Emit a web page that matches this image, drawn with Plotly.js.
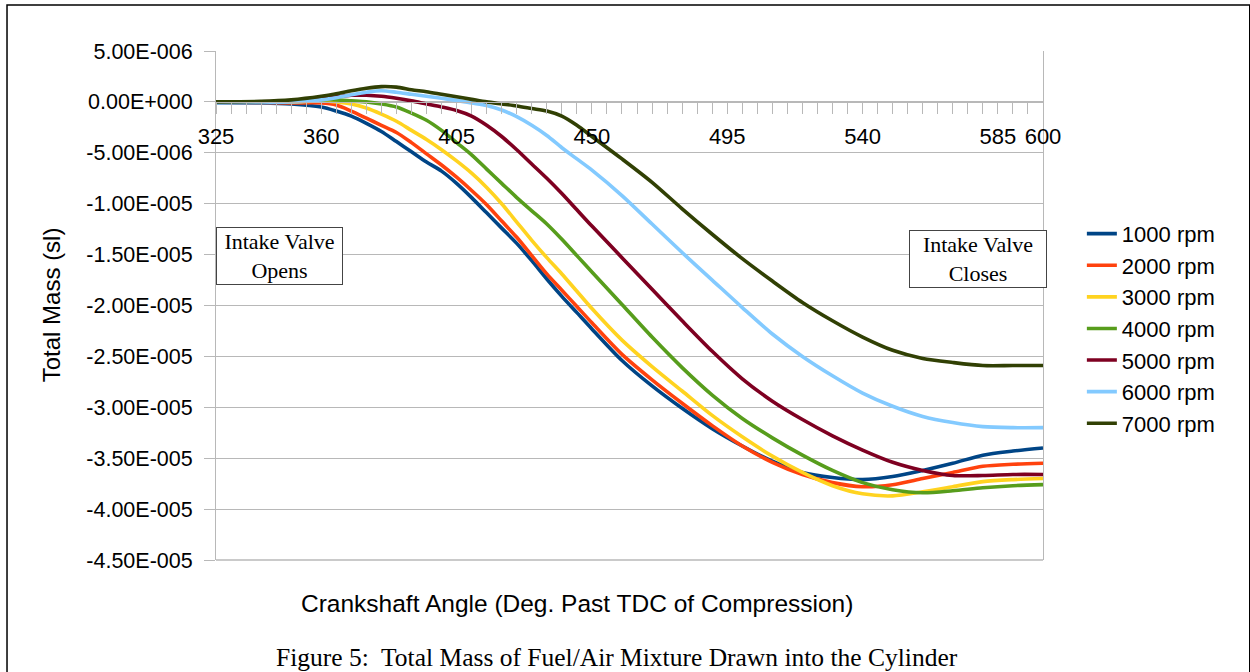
<!DOCTYPE html>
<html>
<head>
<meta charset="utf-8">
<script src="https://cdn.plot.ly/plotly-3.0.1.min.js"></script>
<style>
html,body{margin:0;padding:0;background:#fff;}
#chart{width:1250px;height:672px;}
</style>
</head>
<body>
<div id="chart"></div>
<script>
// Crankshaft angle (deg past TDC of compression)
const angles = [325, 340, 350, 360, 365, 370, 375, 380, 385, 390, 395, 400, 405, 410, 415, 420, 425, 430, 435, 440, 445, 450, 460, 470, 480, 490, 500, 510, 520, 530, 540, 550, 560, 570, 580, 590, 600];

// Total mass values in units of 1e-6 sl
const rpm1000 = [-0.1, -0.1, -0.2, -0.5, -0.9, -1.4, -2.1, -2.9, -3.9, -4.9, -5.9, -6.8, -8.0, -9.4, -10.9, -12.4, -13.9, -15.6, -17.4, -19.1, -20.7, -22.3, -25.4, -27.9, -30.1, -32.1, -33.8, -35.3, -36.4, -36.9, -37.1, -36.8, -36.2, -35.5, -34.7, -34.3, -34.0];
const rpm2000 = [-0.05, -0.05, -0.1, -0.1, -0.3, -0.9, -1.6, -2.3, -3.0, -4.0, -5.1, -6.2, -7.4, -8.7, -10.1, -11.7, -13.3, -15.1, -16.9, -18.5, -20.1, -21.7, -24.8, -27.3, -29.6, -31.8, -33.8, -35.4, -36.6, -37.4, -37.8, -37.6, -37.0, -36.4, -35.8, -35.6, -35.5];
const rpm3000 = [0, 0, 0, 0.1, 0.0, -0.2, -0.6, -1.2, -1.9, -2.8, -3.7, -4.7, -5.8, -7.0, -8.4, -10.0, -11.8, -13.6, -15.3, -16.9, -18.6, -20.3, -23.4, -26.0, -28.4, -30.8, -32.9, -34.8, -36.4, -37.7, -38.5, -38.7, -38.3, -37.8, -37.3, -37.1, -37.0];
const rpm4000 = [0, 0, 0.1, 0.2, 0.2, 0.1, 0.0, -0.2, -0.5, -1.1, -1.8, -2.8, -4.0, -5.2, -6.6, -8.0, -9.4, -10.7, -12.0, -13.5, -15.1, -16.7, -19.9, -23.1, -26.1, -28.8, -31.1, -33.0, -34.7, -36.2, -37.4, -38.1, -38.4, -38.2, -37.9, -37.7, -37.6];
const rpm5000 = [0, 0, 0.1, 0.3, 0.5, 0.65, 0.65, 0.55, 0.35, 0.1, -0.2, -0.5, -0.85, -1.4, -2.3, -3.4, -4.7, -6.1, -7.5, -9.0, -10.6, -12.2, -15.3, -18.4, -21.5, -24.5, -27.2, -29.4, -31.2, -32.8, -34.2, -35.4, -36.2, -36.7, -36.7, -36.6, -36.6];
const rpm6000 = [-0.1, -0.05, 0.0, 0.2, 0.4, 0.7, 0.95, 1.1, 0.95, 0.75, 0.55, 0.35, 0.15, -0.1, -0.35, -0.8, -1.45, -2.3, -3.3, -4.5, -5.6, -6.7, -9.2, -12.0, -14.8, -17.5, -20.2, -22.8, -25.0, -26.9, -28.6, -29.9, -30.9, -31.5, -31.9, -32.0, -32.0];
const rpm7000 = [0, 0.05, 0.2, 0.55, 0.8, 1.1, 1.35, 1.5, 1.45, 1.2, 1.0, 0.75, 0.5, 0.25, 0.0, -0.2, -0.4, -0.65, -0.9, -1.4, -2.3, -3.4, -5.6, -7.9, -10.5, -13.0, -15.4, -17.6, -19.7, -21.5, -23.1, -24.4, -25.2, -25.6, -25.9, -25.9, -25.9];

const seriesNames = ["1000 rpm", "2000 rpm", "3000 rpm", "4000 rpm", "5000 rpm", "6000 rpm", "7000 rpm"];
const seriesValues = [rpm1000, rpm2000, rpm3000, rpm4000, rpm5000, rpm6000, rpm7000];
const seriesColors = ["#004586", "#ff420e", "#ffd320", "#579d1c", "#7e0021", "#83caff", "#314004"];
const unitScale = 1e-6;

const xTickVals = [325, 360, 405, 450, 495, 540, 585, 600];
const xTickText = ["325", "360", "405", "450", "495", "540", "585", "600"];
const yTickVals = [5e-6, 0, -5e-6, -1e-5, -1.5e-5, -2e-5, -2.5e-5, -3e-5, -3.5e-5, -4e-5, -4.5e-5];
const yTickText = ["5.00E-006", "0.00E+000", "-5.00E-006", "-1.00E-005", "-1.50E-005", "-2.00E-005", "-2.50E-005", "-3.00E-005", "-3.50E-005", "-4.00E-005", "-4.50E-005"];

const sans = "Liberation Sans, Arial, sans-serif";
const serif = "Liberation Serif, Times New Roman, serif";
const gridGray = "#b8b8b8";

const traces = seriesNames.map((name, i) => ({
  type: "scatter",
  mode: "lines",
  name: name,
  x: angles,
  y: seriesValues[i].map(v => v * unitScale),
  line: {color: seriesColors[i], width: 3.6, shape: "spline", smoothing: 0.8},
  hoverinfo: "x+y+name"
}));

const layout = {
  width: 1250,
  height: 672,
  paper_bgcolor: "#ffffff",
  plot_bgcolor: "#ffffff",
  margin: {l: 216, r: 207, t: 51, b: 112, pad: 0},
  showlegend: true,
  legend: {
    x: 1.047, xanchor: "left", y: 0.682, yanchor: "top",
    font: {family: sans, size: 22, color: "#000"},
    bgcolor: "rgba(0,0,0,0)", borderwidth: 0,
    itemwidth: 30, tracegroupgap: 0
  },
  xaxis: {
    range: [325, 600],
    anchor: "free",
    position: 0.9,
    showgrid: false,
    zeroline: false,
    showline: true,
    linecolor: gridGray,
    linewidth: 1,
    ticks: "outside",
    ticklen: 11,
    tickcolor: gridGray,
    tickwidth: 1,
    tickvals: xTickVals,
    ticktext: xTickText,
    ticklabelstandoff: 4,
    minor: {dtick: 5, tick0: 325, ticks: "outside", ticklen: 11, tickcolor: gridGray, showgrid: false},
    tickfont: {family: sans, size: 22, color: "#000"}
  },
  yaxis: {
    range: [-4.5e-5, 5e-6],
    showgrid: true,
    gridcolor: gridGray,
    gridwidth: 1,
    zeroline: false,
    showline: true,
    mirror: true,
    linecolor: gridGray,
    linewidth: 1,
    ticks: "outside",
    ticklen: 11,
    tickcolor: gridGray,
    tickvals: yTickVals,
    ticktext: yTickText,
    ticklabelstandoff: 7,
    tickfont: {family: sans, size: 21.5, color: "#000"}
  },
  shapes: [
    {type: "rect", xref: "paper", yref: "paper", x0: -0.2527, x1: 1.25, y0: -0.26, y1: 1.0904,
     line: {color: "#000", width: 1.5}, fillcolor: "rgba(0,0,0,0)", layer: "below"},
    {type: "line", xref: "paper", yref: "paper", x0: 0, x1: 1, y0: 0, y1: 0,
     line: {color: gridGray, width: 1.5}}
  ],
  annotations: [
    {xref: "paper", yref: "paper", x: 0.4365, y: -0.0845, xanchor: "center", yanchor: "middle",
     text: "Crankshaft Angle (Deg. Past TDC of Compression)", showarrow: false,
     font: {family: sans, size: 24.5, color: "#000"}},
    {xref: "paper", yref: "paper", x: -0.198, y: 0.501, xanchor: "center", yanchor: "middle",
     text: "Total Mass (sl)", textangle: -90, showarrow: false,
     font: {family: sans, size: 24, color: "#000"}},
    {xref: "paper", yref: "paper", x: 0.485, y: -0.192, xanchor: "center", yanchor: "middle",
     text: "Figure 5:  Total Mass of Fuel/Air Mixture Drawn into the Cylinder", showarrow: false,
     font: {family: serif, size: 25.5, color: "#000"}},
    {xref: "paper", yref: "paper", x: 0.0768, y: 0.597, xanchor: "center", yanchor: "middle",
     text: "Intake Valve<br>Opens", showarrow: false, align: "center",
     width: 123, height: 54, borderpad: 1, bordercolor: "#444", borderwidth: 1, bgcolor: "#fff",
     font: {family: serif, size: 22, color: "#000"}},
    {xref: "paper", yref: "paper", x: 0.9214, y: 0.5914, xanchor: "center", yanchor: "middle",
     text: "Intake Valve<br>Closes", showarrow: false, align: "center",
     width: 134, height: 54, borderpad: 1, bordercolor: "#444", borderwidth: 1, bgcolor: "#fff",
     font: {family: serif, size: 22, color: "#000"}}
  ]
};

Plotly.newPlot("chart", traces, layout, {displayModeBar: false, staticPlot: true});
</script>
</body>
</html>
